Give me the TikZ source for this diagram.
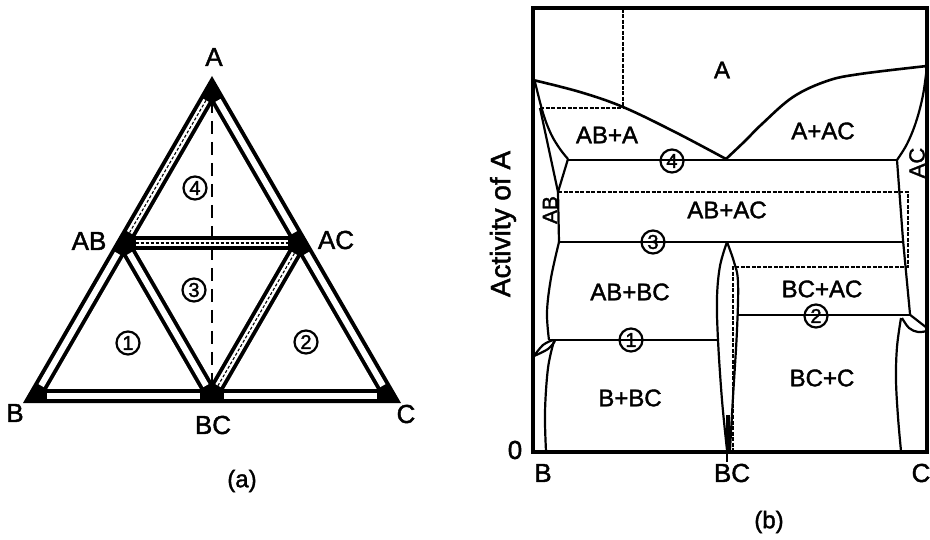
\documentclass[tikz,border=0pt]{standalone}
\usepackage{fontspec}
\setmainfont{Liberation Sans}
\newfontfamily\hv{Liberation Sans}[FakeBold=1.6]
\usetikzlibrary{calc}
\begin{document}
\begin{tikzpicture}[x=1pt,y=-1pt,
  lbl/.style={font=\hv\fontsize{26}{26}\selectfont, inner sep=0pt},
  reg/.style={font=\hv\fontsize{24}{24}\selectfont, inner sep=0pt},
  num/.style={circle, draw, line width=2.2pt, minimum size=23pt, inner sep=0pt, font=\hv\fontsize{20}{20}\selectfont},
  band/.style={white, line width=6pt, shorten <=12pt, shorten >=12pt},
  bandmid/.style={black, line width=1.1pt, dash pattern=on 3pt off 2pt, shorten <=12pt, shorten >=12pt},
  bnd/.style={line width=2.2pt, line join=round},
  liq/.style={line width=2.6pt, line join=round},
  dsh/.style={line width=1.6pt, dash pattern=on 4pt off 1.5pt},
]
\useasboundingbox (0,0) rectangle (930,540);
\fill[white] (0,0) rectangle (930,540);

% ---------------- (a) ternary triangle ----------------
\coordinate (A) at (212,76);
\coordinate (B) at (23,403);
\coordinate (C) at (401,403);
\coordinate (G) at (212,293.9);
\coordinate (Ai) at ($(G)!0.936!(A)$);
\coordinate (Bi) at ($(G)!0.936!(B)$);
\coordinate (Ci) at ($(G)!0.936!(C)$);
\coordinate (ABi) at ($(Ai)!0.5!(Bi)$);
\coordinate (ACi) at ($(Ai)!0.5!(Ci)$);
\coordinate (BCi) at ($(Bi)!0.5!(Ci)$);

\fill[black] (A) -- (B) -- (C) -- cycle;
\foreach \p/\q in {Ai/ABi, ABi/Bi, Bi/BCi, BCi/Ci, Ci/ACi, ACi/Ai, ABi/ACi, ABi/BCi, ACi/BCi}
  \draw[band] (\p) -- (\q);
% inset white interiors of the four sub-triangles
\foreach \p/\q/\r in {Ai/ABi/ACi, ABi/Bi/BCi, ACi/BCi/Ci, ABi/ACi/BCi}{
  \coordinate (M) at ($1/3*(\p)+1/3*(\q)+1/3*(\r)$);
  \fill[white] ($(M)!0.862!(\p)$) -- ($(M)!0.862!(\q)$) -- ($(M)!0.862!(\r)$) -- cycle;
}
\draw[bandmid] (Ai) -- (ABi);
\draw[bandmid] (ABi) -- (ACi);
\draw[bandmid] (ACi) -- (BCi);
\coordinate (vtop) at (212,100);
\coordinate (vbot) at (212,392);
\draw[line width=2.2pt, dash pattern=on 13pt off 8pt] (vtop) -- (vbot);

\node[lbl] (lA) at (214,57) {A};
\node[lbl] (lAB) at (89,241) {AB};
\node[lbl] (lAC) at (336,240) {AC};
\node[lbl] (lB) at (15,413) {B};
\node[lbl] (lBC) at (213,425) {BC};
\node[lbl] (lC) at (406,414) {C};
\node[font=\hv\fontsize{24}{24}\selectfont, inner sep=0pt] (la) at (242,481) {(a)};

\node[num] (n4) at (195,188) {4};
\node[num] (n3) at (194,290) {3};
\node[num] (n1) at (128,343) {1};
\node[num] (n2) at (306,342) {2};

% ---------------- (b) activity diagram ----------------
% dashed construction lines
\draw[dsh] (623,9) -- (623,107);
\draw[dsh] (540,108) -- (623,108);
\draw[dsh] (558,192) -- (908,192) -- (908,267) -- (733,267) -- (733,451);

% liquidus
\draw[liq] plot[smooth, tension=0.6] coordinates {(533,80) (580,92) (623,107) (675,132) (726,159)};
\draw[liq] plot[smooth, tension=0.6] coordinates {(726,159) (745,141) (762,124) (793,97) (827,81) (860,74) (927,66)};
% AC boundary
\draw[bnd] plot[smooth, tension=0.6] coordinates {(927,66) (923,95) (916,122) (907,144) (897,160)};
\draw[bnd] (897,160) -- (903,240) -- (910,314);
% AB boundaries
\draw[bnd] plot[smooth, tension=0.6] coordinates {(535,82) (543,113) (551,134) (560,149) (568,159)};
\draw[bnd] (540,108) -- (558,192);
\draw[bnd] (568,159) -- (558,192) -- (559,242);
\draw[bnd] plot[smooth, tension=0.6] coordinates {(559,242) (551,278) (547,312) (549,340)};
% B lens + boundary
\draw[bnd] plot[smooth, tension=0.6] coordinates {(534,356) (543,345) (553,340)};
\draw[bnd] plot[smooth, tension=0.6] coordinates {(534,356) (548,349) (555,341)};
\draw[bnd] plot[smooth, tension=0.6] coordinates {(554,341) (548,368) (545,412) (546,451)};
% BC lens
\draw[bnd] plot[smooth, tension=0.6] coordinates {(727,242) (720,266) (717,298) (718,340) (722,400) (727,450)};
\draw[bnd] plot[smooth, tension=0.6] coordinates {(727,242) (734,262) (738,282) (737,330) (733,397) (730,450)};
\draw[line width=3.2pt] (728,415) -- (728,451);
% C lens + boundary
\draw[bnd] plot[smooth, tension=0.6] coordinates {(909,314) (918,321) (927,328)};
\draw[bnd] plot[smooth, tension=0.6] coordinates {(902,318) (909,328) (918,332) (927,331)};
\draw[bnd] plot[smooth, tension=0.6] coordinates {(901,318) (897,347) (896,380) (898,417) (901,451)};

% tie lines
\draw[bnd] (568,160) -- (897,160);
\draw[bnd] (559,242) -- (903,242);
\draw[bnd] (549,340) -- (717,340);
\draw[bnd] (737,315) -- (910,315);

% frame
\draw[line width=3.4pt] (533,8) rectangle (927,452);
\draw[line width=1.5pt] (727,452) -- (727,462);

\node[num] (m4) at (672,161) {4};
\node[num] (m3) at (653,242) {3};
\node[num] (m1) at (631,340) {1};
\node[num] (m2) at (816,316) {2};

\node[reg] (rA) at (722,70) {A};
\node[reg] (rABA) at (607,135) {AB+A};
\node[reg] (rAAC) at (823,131) {A+AC};
\node[reg] (rABAC) at (727,210) {AB+AC};
\node[reg] (rABBC) at (630,292) {AB+BC};
\node[reg] (rBBC) at (630,398) {B+BC};
\node[reg] (rBCAC) at (822,289) {BC+AC};
\node[reg] (rBCC) at (822,378) {BC+C};
\node[font=\hv\fontsize{21}{21}\selectfont, inner sep=0pt, rotate=90] (rAB) at (550,210) {AB};
\node[font=\hv\fontsize{22}{22}\selectfont, inner sep=0pt, rotate=90] (rAC) at (917,163) {AC};

\node[font=\hv\fontsize{28}{28}\selectfont, inner sep=0pt, rotate=90] (ylab) at (503,224) {Activity of A};
\node[lbl] (z0) at (515,450) {0};
\node[lbl] (xB) at (543,473) {B};
\node[lbl] (xBC) at (732,473) {BC};
\node[lbl] (xC) at (921,473) {C};
\node[font=\hv\fontsize{24}{24}\selectfont, inner sep=0pt] (lb) at (769,522) {(b)};
\end{tikzpicture}
\end{document}
